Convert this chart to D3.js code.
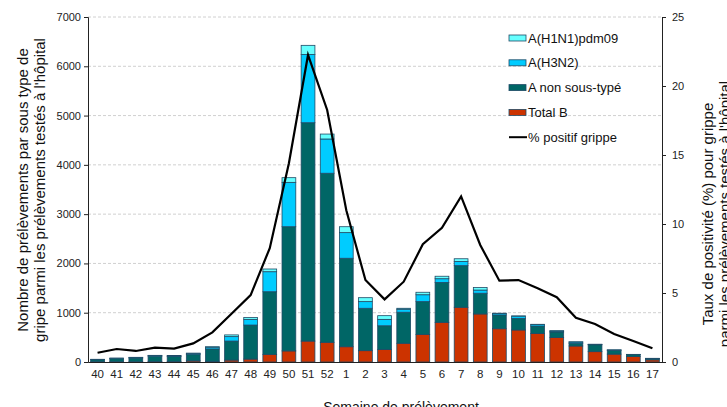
<!DOCTYPE html>
<html><head><meta charset="utf-8">
<script src="https://cdn.jsdelivr.net/npm/d3@7"></script>
<style>body{margin:0;background:#fff;font-family:"Liberation Sans",Arial,sans-serif}</style>
</head><body><svg id="c" width="727" height="407"></svg>
<script>
const weeks = ["40","41","42","43","44","45","46","47","48","49","50","51","52","1","2","3","4","5","6","7","8","9","10","11","12","13","14","15","16","17"];
const totalB   = [5,5,5,8,8,25,15,40,60,155,225,425,400,310,230,255,380,560,805,1110,975,675,650,580,495,325,210,160,110,45];
const aNonSous = [42,62,75,110,105,125,250,385,690,1271,2520,4430,3430,1795,860,480,630,665,810,845,420,280,235,150,115,55,140,80,40,25];
const h3n2     = [5,8,10,12,12,25,35,90,115,406,900,1385,695,520,135,130,60,140,75,85,65,30,45,30,20,25,8,3,3,3];
const h1n1     = [3,5,5,5,5,5,10,35,40,55,95,185,100,120,80,75,20,50,50,55,50,5,5,5,5,5,2,2,2,2];
const pctPositive = [0.67,0.94,0.8,1.04,0.97,1.35,2.15,3.5,4.85,8.25,14.4,22.25,18.26,11.0,5.94,4.54,5.82,8.53,9.73,12.0,8.48,5.89,5.94,5.34,4.69,3.21,2.75,2.03,1.52,0.99];
const leftTicks = [0,1000,2000,3000,4000,5000,6000,7000];
const rightTicks = [0,5,10,15,20,25];
const seriesNames = ["Total B","A non sous-typé","A(H3N2)","A(H1N1)pdm09"];
const seriesColors = ["#CC3300","#006666","#00CCFF","#66FFFF"];

const svg = d3.select("#c");
const L = 88, R = 662, T = 17, B = 362;
const x = d3.scaleBand().domain(weeks).range([L, R]).paddingInner(0.28).paddingOuter(0.14);
const y = d3.scaleLinear().domain([0,7000]).range([B, T]);
const y2 = d3.scaleLinear().domain([0,25]).range([B, T]);

// gridlines
svg.append("g").selectAll("line").data(leftTicks.filter(d=>d>0)).join("line")
  .attr("x1", L).attr("x2", R).attr("y1", d=>y(d)).attr("y2", d=>y(d))
  .attr("stroke","#d0d0d0").attr("stroke-dasharray","3,2").attr("stroke-width",1);

// stacked data
const rows = weeks.map((w,i)=>({week:w, "Total B":totalB[i], "A non sous-typé":aNonSous[i], "A(H3N2)":h3n2[i], "A(H1N1)pdm09":h1n1[i]}));
const stack = d3.stack().keys(seriesNames)(rows);
svg.append("g").selectAll("g").data(stack).join("g")
  .attr("fill",(d,i)=>seriesColors[i])
  .selectAll("rect").data(d=>d).join("rect")
  .attr("x", d=>x(d.data.week)).attr("width", x.bandwidth())
  .attr("y", d=>y(d[1])).attr("height", d=>y(d[0])-y(d[1]))
  .attr("stroke","#1f4a66").attr("stroke-width",0.8);

// line
const line = d3.line().x((d,i)=>x(weeks[i])+x.bandwidth()/2).y(d=>y2(d));
svg.append("path").datum(pctPositive).attr("d", line)
  .attr("fill","none").attr("stroke","#000").attr("stroke-width",2.2).attr("stroke-linejoin","miter");

// axes
const fs = "11px";
const gl = svg.append("g").attr("transform",`translate(${L},0)`)
  .call(d3.axisLeft(y).tickValues(leftTicks).tickSize(4).tickPadding(3).tickFormat(d3.format("d")));
const gr = svg.append("g").attr("transform",`translate(${R},0)`)
  .call(d3.axisRight(y2).tickValues(rightTicks).tickSize(4).tickPadding(6));
const gb = svg.append("g").attr("transform",`translate(0,${B})`)
  .call(d3.axisBottom(x).tickSize(0).tickPadding(8));
[gl,gr,gb].forEach(g=>{
  g.selectAll("text").attr("font-family","'Liberation Sans',Arial,sans-serif").attr("font-size",fs).attr("fill","#222");
  g.select(".domain").attr("stroke","#222");
  g.selectAll(".tick line").attr("stroke","#222");
});
gb.selectAll("text").attr("font-size","11.5px");

// axis titles
const tf = "'Liberation Sans',Arial,sans-serif";
const lt = svg.append("text").attr("transform","translate(28,190) rotate(-90)")
  .attr("text-anchor","middle").attr("font-family",tf).attr("font-size","15px").attr("fill","#111");
lt.append("tspan").attr("x",0).attr("dy",0).text("Nombre de prélèvements par sous type de");
lt.append("tspan").attr("x",0).attr("dy",17).text("gripe parmi les prélèvements testés à l'hôpital");
const rt = svg.append("text").attr("transform","translate(713,214) rotate(-90)")
  .attr("text-anchor","middle").attr("font-family",tf).attr("font-size","15px").attr("fill","#111");
rt.append("tspan").attr("x",0).attr("dy",0).text("Taux de positivité (%) pour grippe");
rt.append("tspan").attr("x",0).attr("dy",17).text("parmi les prélèvements testés à l'hôpital");
svg.append("text").attr("x",401).attr("y",412).attr("text-anchor","middle")
  .attr("font-family",tf).attr("font-size","14px").attr("fill","#111").text("Semaine  de prélèvement");

// legend
const legendItems = [
  {name:"A(H1N1)pdm09", color:"#66FFFF", type:"box"},
  {name:"A(H3N2)", color:"#00CCFF", type:"box"},
  {name:"A non sous-typé", color:"#006666", type:"box"},
  {name:"Total B", color:"#CC3300", type:"box"},
  {name:"% positif grippe", color:"#000", type:"line"}
];
const lg = svg.append("g").selectAll("g").data(legendItems).join("g")
  .attr("transform",(d,i)=>`translate(509,${38+i*24.8})`);
lg.filter(d=>d.type==="box").append("rect").attr("x",0).attr("y",-3).attr("width",17).attr("height",6)
  .attr("fill",d=>d.color).attr("stroke","#1f4a66").attr("stroke-width",0.8);
lg.filter(d=>d.type==="line").append("line").attr("x1",0).attr("x2",18).attr("y1",0).attr("y2",0)
  .attr("stroke","#000").attr("stroke-width",2);
lg.append("text").attr("x",19).attr("y",4.5).attr("font-family",tf).attr("font-size","13px").attr("fill","#111").text(d=>d.name);
</script></body></html>
